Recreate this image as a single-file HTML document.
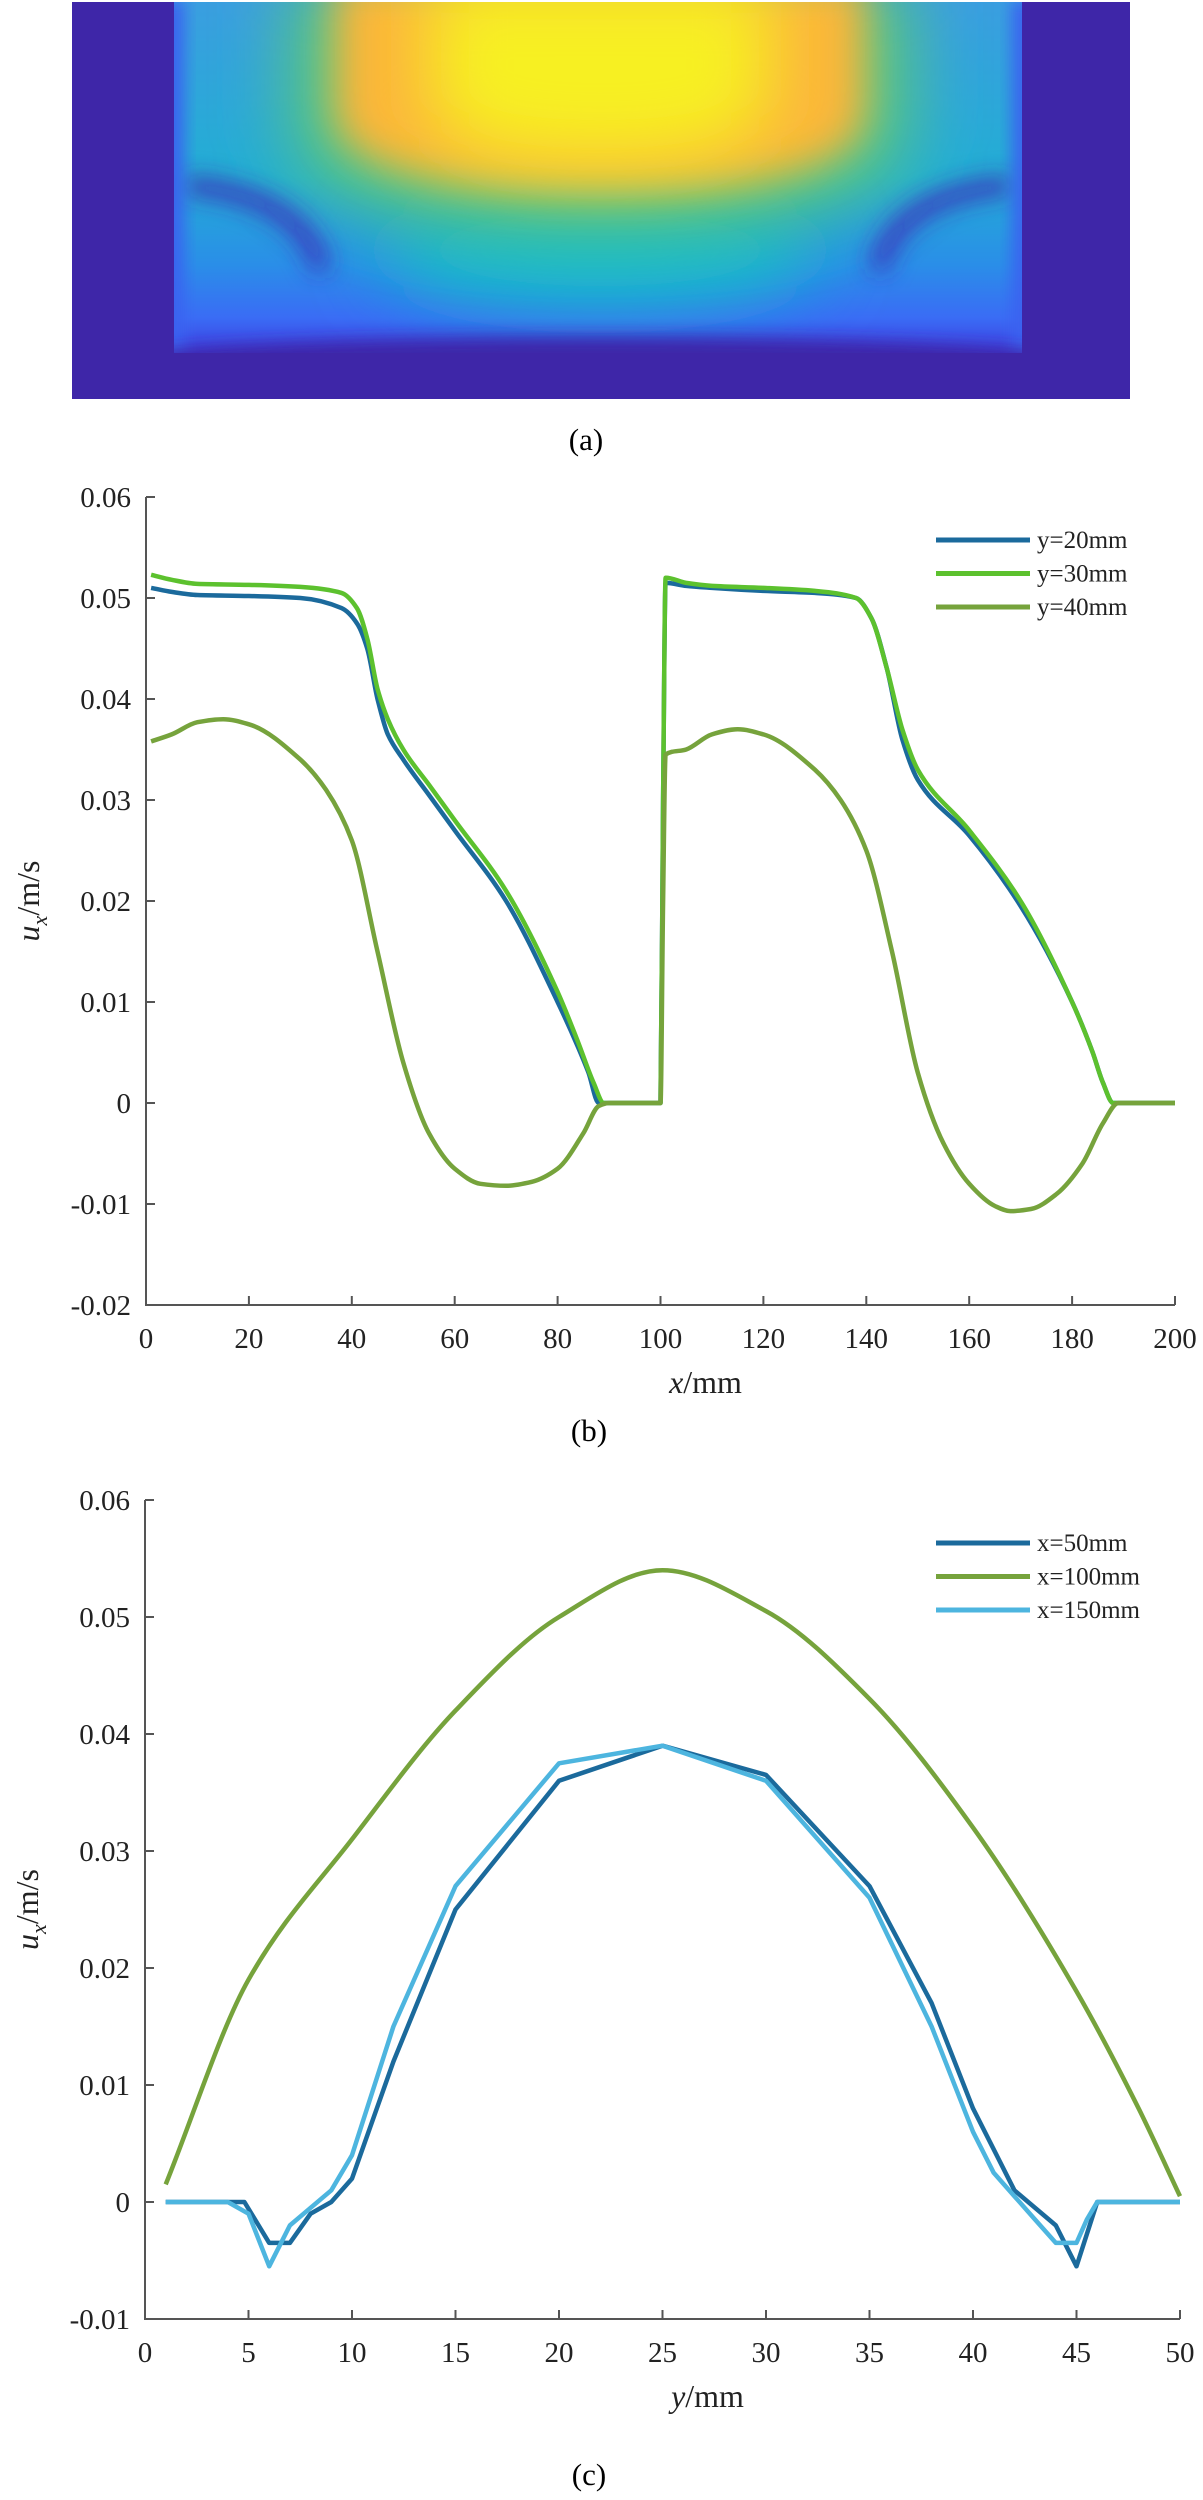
<!DOCTYPE html>
<html><head><meta charset="utf-8"><style>
body{margin:0;background:#fff;width:1203px;height:2500px;overflow:hidden;font-family:"Liberation Serif",serif}
svg{position:absolute;left:0;top:0}
</style></head><body>
<svg width="1203" height="2500">
<defs>
<linearGradient id="bg" x1="0" y1="0" x2="0" y2="1">
<stop offset="0" stop-color="#3a9ee0"/><stop offset="0.5" stop-color="#22aed4"/><stop offset="0.75" stop-color="#2a8ee8"/><stop offset="0.9" stop-color="#3a6cf5"/><stop offset="1" stop-color="#3d3ee0"/>
</linearGradient>
<clipPath id="ic"><rect x="174" y="2" width="848" height="351"/></clipPath>
<filter id="b8" x="-50%" y="-50%" width="200%" height="200%"><feGaussianBlur stdDeviation="8"/></filter>
<filter id="b12" x="-50%" y="-50%" width="200%" height="200%"><feGaussianBlur stdDeviation="12"/></filter>
<filter id="b20" x="-50%" y="-50%" width="200%" height="200%"><feGaussianBlur stdDeviation="20"/></filter>
<filter id="b35" x="-50%" y="-50%" width="200%" height="200%"><feGaussianBlur stdDeviation="35"/></filter>
</defs>
<g>
<rect x="72" y="2" width="1058" height="397" fill="#3e26a8"/>
<g clip-path="url(#ic)">
<rect x="174" y="2" width="848" height="351" fill="url(#bg)"/>
<ellipse cx="600" cy="250" rx="220" ry="60" fill="#12bccc" filter="url(#b35)"/>
<path d="M290,-20H910V120Q910,230 600,230Q290,230 290,120Z" fill="#5cc878" filter="url(#b35)"/>
<path d="M335,-20H865V110Q865,190 600,190Q335,190 335,110Z" fill="#fbb53a" filter="url(#b20)"/>
<path d="M430,-20H770V100Q770,160 600,160Q430,160 430,100Z" fill="#f7f020" filter="url(#b35)"/>
<path d="M184,185Q300,195 322,270" stroke="#3c28b8" stroke-width="16" fill="none" filter="url(#b12)"/>
<path d="M1012,185Q896,195 878,270" stroke="#3c28b8" stroke-width="16" fill="none" filter="url(#b12)"/>
<rect x="160" y="0" width="24" height="360" fill="#3a62f0" filter="url(#b8)"/>
<rect x="1012" y="0" width="24" height="360" fill="#3a62f0" filter="url(#b8)"/>
<ellipse cx="600" cy="360" rx="470" ry="22" fill="#3e26a8" filter="url(#b8)"/>
</g>
</g>
<text x="586" y="450" font-size="31" text-anchor="middle">(a)</text>
<g id="pb"></g>
<g id="pc"></g>
<text x="589" y="1441" font-size="31" text-anchor="middle">(b)</text>
<text x="589" y="2485" font-size="31" text-anchor="middle">(c)</text>
</svg>
<script>
const NS="http://www.w3.org/2000/svg";
// Panel b data
const bTicksX=[0,20,40,60,80,100,120,140,160,180,200];
const bTicksY=[-0.02,-0.01,0,0.01,0.02,0.03,0.04,0.05,0.06];
const bY20x=[1,5,10,20,30,38,41,43,45,47,50,55,60,70,80,84,86,88,100,100.5,101,105,110,120,130,138,141,144,147,150,160,170,180,184,186,188,200];
const bY20v=[0.051,0.0506,0.0503,0.0502,0.050,0.049,0.0475,0.045,0.040,0.0365,0.034,0.0305,0.027,0.020,0.010,0.0055,0.003,0,0,0.03,0.0515,0.0512,0.051,0.0507,0.0505,0.050,0.048,0.043,0.036,0.032,0.0265,0.0195,0.010,0.005,0.002,0,0];
const bY30x=[1,5,10,20,30,38,41,43,45,47,50,55,60,70,80,84,87,89,100,100.5,101,105,110,120,130,138,141,144,147,150,160,170,180,184,186,188,200];
const bY30v=[0.0523,0.0518,0.0514,0.0513,0.0511,0.0505,0.049,0.046,0.041,0.038,0.035,0.0315,0.028,0.021,0.011,0.006,0.002,0,0,0.03,0.052,0.0515,0.0512,0.051,0.0507,0.050,0.048,0.043,0.037,0.033,0.027,0.020,0.010,0.005,0.002,0,0];
const bY40x=[1,5,10,15,20,30,35,40,45,50,55,60,65,70,75,80,85,88,90,100,100.5,101,105,110,115,120,130,135,140,145,150,155,160,165,168,172,177,182,186,189,200];
const bY40v=[0.0358,0.0365,0.0377,0.038,0.0375,0.034,0.031,0.026,0.015,0.004,-0.003,-0.0065,-0.008,-0.0082,-0.0078,-0.0065,-0.003,-0.0003,0,0,0.02,0.0345,0.035,0.0365,0.037,0.0365,0.033,0.030,0.025,0.015,0.003,-0.004,-0.008,-0.0102,-0.0107,-0.0105,-0.009,-0.006,-0.002,0,0];
// Panel c data
const cTicksX=[0,5,10,15,20,25,30,35,40,45,50];
const cTicksY=[-0.01,0,0.01,0.02,0.03,0.04,0.05,0.06];
const c50x=[1,4.8,6,7,8,9,10,12,15,20,25,30,35,38,40,42,44,45,46,50];
const c50v=[0,0,-0.0035,-0.0035,-0.001,0,0.002,0.012,0.025,0.036,0.039,0.0365,0.027,0.017,0.008,0.001,-0.002,-0.0055,0,0];
const c100x=[1,5,10,15,20,25,30,35,40,45,48,50];
const c100v=[0.0015,0.019,0.031,0.042,0.050,0.054,0.0505,0.043,0.032,0.018,0.008,0.0005];
const c150x=[1,4,5,6,7,8,9,10,12,15,20,25,30,35,38,40,41,42,43,44,45,45.5,46,50];
const c150v=[0,0,-0.001,-0.0055,-0.002,-0.0005,0.001,0.004,0.015,0.027,0.0375,0.039,0.036,0.026,0.015,0.006,0.0025,0.0005,-0.0015,-0.0035,-0.0035,-0.0015,0,0];

function el(p,t,a){const e=document.createElementNS(NS,t);for(const k in a)e.setAttribute(k,a[k]);p.appendChild(e);return e;}
function monoPath(pts){
  const n=pts.length,dx=[],s=[],m=[];
  for(let i=0;i<n-1;i++){dx[i]=pts[i+1][0]-pts[i][0];s[i]=(pts[i+1][1]-pts[i][1])/dx[i];}
  m[0]=s[0];m[n-1]=s[n-2];
  for(let i=1;i<n-1;i++){
    if(s[i-1]*s[i]<=0)m[i]=0;
    else{const w1=2*dx[i]+dx[i-1],w2=dx[i]+2*dx[i-1];m[i]=(w1+w2)/(w1/s[i-1]+w2/s[i]);}
  }
  let d='M'+pts[0][0].toFixed(1)+','+pts[0][1].toFixed(1);
  for(let i=0;i<n-1;i++){
    const h=dx[i]/3;
    d+='C'+(pts[i][0]+h).toFixed(1)+','+(pts[i][1]+m[i]*h).toFixed(1)+' '+(pts[i+1][0]-h).toFixed(1)+','+(pts[i+1][1]-m[i+1]*h).toFixed(1)+' '+pts[i+1][0].toFixed(1)+','+pts[i+1][1].toFixed(1);
  }
  return d;
}
function panel(g,o){
  const sx=v=>o.x0+(v-o.xmin)/(o.xmax-o.xmin)*(o.x1-o.x0);
  const sy=v=>o.y0-(v-o.ymin)/(o.ymax-o.ymin)*(o.y0-o.y1);
  const ax=el(g,'path',{d:`M${o.x0},${o.y1}V${o.y0}H${o.x1}`,stroke:'#555',fill:'none','stroke-width':2});
  
  
  o.tx.forEach(t=>{
    const x=sx(t);
    const tk=el(g,'line',{x1:x,x2:x,y1:o.y0,y2:o.y0-9,stroke:'#555','stroke-width':2});
    
    
    const tl=el(g,'text',{x:x,y:o.y0+43,'font-size':29,'text-anchor':'middle',fill:'#222'});
    tl.textContent=t;
    
    
  });
  o.ty.forEach(t=>{
    const y=sy(t);
    const tk=el(g,'line',{x1:o.x0,x2:o.x0+9,y1:y,y2:y,stroke:'#555','stroke-width':2});
    
    
    const tl=el(g,'text',{x:o.x0-15,y:y+10,'font-size':29,'text-anchor':'end',fill:'#222'});
    tl.textContent=t===0?'0':String(t);
    
    
  });
  const xl=el(g,'text',{x:(o.x0+o.x1)/2+45,y:o.y0+88,'font-size':32,'text-anchor':'middle',fill:'#222'});
  xl.innerHTML='<tspan font-style="italic">'+o.xv+'</tspan>/mm';
  
  
  const yl=el(g,'text',{transform:`translate(${o.x0-107},${(o.y0+o.y1)/2}) rotate(-90)`,'font-size':32,'text-anchor':'middle',fill:'#222'});
  yl.innerHTML='<tspan font-style="italic">u</tspan><tspan font-style="italic" font-size="22" dy="8">x</tspan><tspan dy="-8">/m/s</tspan>';
  
  
  o.series.forEach((s,i)=>{
    const pts=s.x.map((x,j)=>[sx(x),sy(s.v[j])]);
    const d=s.smooth?monoPath(pts):pts.map((p,j)=>(j?'L':'M')+p[0].toFixed(1)+','+p[1].toFixed(1)).join('');
    const p=el(g,'path',{d:d,stroke:s.c,'stroke-width':4.5,fill:'none','stroke-linejoin':'round'});
    
    
    const ly=o.ly+i*33.5;
    const ll=el(g,'line',{x1:o.lx,x2:o.lx+94,y1:ly,y2:ly,stroke:s.c,'stroke-width':5});
    
    
    const lt=el(g,'text',{x:o.lx+101,y:ly+8,'font-size':25,fill:'#222'});
    lt.textContent=s.label;
    
    
  });
}
panel(document.getElementById('pb'),{id:'panel-b',x0:146,x1:1175,y0:1305,y1:497,xmin:0,xmax:200,ymin:-0.02,ymax:0.06,tx:bTicksX,ty:bTicksY,xv:'x',lx:936,ly:540,
 series:[{n:'y20',x:bY20x,v:bY20v,c:'#1b6a9c',label:'y=20mm',smooth:true},{n:'y30',x:bY30x,v:bY30v,c:'#5cc12e',label:'y=30mm',smooth:true},{n:'y40',x:bY40x,v:bY40v,c:'#76a33c',label:'y=40mm',smooth:true}]});
panel(document.getElementById('pc'),{id:'panel-c',x0:145,x1:1180,y0:2319,y1:1500,xmin:0,xmax:50,ymin:-0.01,ymax:0.06,tx:cTicksX,ty:cTicksY,xv:'y',lx:936,ly:1543,
 series:[{n:'x50',x:c50x,v:c50v,c:'#1b6a9c',label:'x=50mm'},{n:'x100',x:c100x,v:c100v,c:'#76a33c',label:'x=100mm',smooth:true},{n:'x150',x:c150x,v:c150v,c:'#4db5df',label:'x=150mm'}]});
</script>
</body></html>
